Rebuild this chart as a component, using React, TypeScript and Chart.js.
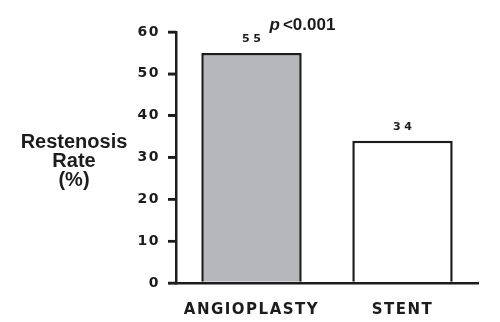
import React, { useEffect, useRef } from 'react';
import { Chart, registerables } from 'chart.js';

Chart.register(...registerables);

const categories = ['ANGIOPLASTY', 'STENT'];
const restenosisRates = [55, 34];
const barColors = ['#b5b7ba', '#ffffff'];
const yTitleLines = ['Restenosis', 'Rate', '(%)'];
const pLabel = 'p';
const pValueLabel = '<0.001';
const yMin = 0;
const yMax = 60;
const yStep = 10;

const FONT = '"Liberation Sans", Arial, Helvetica, sans-serif';
const WIDE = '"DejaVu Sans", Verdana, sans-serif';
const INK = '#1c1c1c';
const TICK_LEN = 8;

const annotationPlugin = {
  id: 'annotations',
  beforeDraw(chart: any) {
    chart.ctx.letterSpacing = '1.5px';
  },
  afterDraw(chart: any) {
    const ctx = chart.ctx;
    const area = chart.chartArea;
    const meta = chart.getDatasetMeta(0);
    const yScale = chart.scales.y;
    ctx.save();
    // y tick marks
    ctx.strokeStyle = INK;
    ctx.lineWidth = 2.5;
    ctx.lineCap = 'butt';
    yScale.ticks.forEach((t: any) => {
      const py = yScale.getPixelForValue(t.value);
      ctx.beginPath();
      ctx.moveTo(yScale.right - TICK_LEN, py);
      ctx.lineTo(yScale.right, py);
      ctx.stroke();
    });
    ctx.fillStyle = INK;
    // value labels above bars
    ctx.font = `bold 11px ${WIDE}`;
    ctx.letterSpacing = '3.5px';
    ctx.textAlign = 'center';
    ctx.textBaseline = 'alphabetic';
    meta.data.forEach((bar: any, i: number) => {
      ctx.fillText(String(restenosisRates[i]), bar.x + 1.75, bar.y - 10.5);
    });
    // p-value
    ctx.letterSpacing = '0px';
    ctx.textAlign = 'left';
    const b0 = meta.data[0];
    const px = b0.x + 18;
    const py = area.top - 2;
    ctx.font = `italic bold 17px ${FONT}`;
    ctx.fillText(pLabel, px, py);
    const pw = ctx.measureText(pLabel).width;
    ctx.font = `bold 17px ${FONT}`;
    ctx.fillText(pValueLabel, px + pw + 3, py);
    // y title (horizontal, three lines)
    ctx.font = `bold 20px ${FONT}`;
    ctx.textAlign = 'center';
    const cy = (area.top + area.bottom) / 2;
    yTitleLines.forEach((line, i) => {
      ctx.fillText(line, 74, cy - 9.5 + i * 19);
    });
    ctx.restore();
  },
};

export default function App() {
  const ref = useRef<HTMLCanvasElement>(null);
  useEffect(() => {
    if (!ref.current) return;
    const chart = new Chart(ref.current, {
      type: 'bar',
      data: {
        labels: categories,
        datasets: [
          {
            data: restenosisRates,
            backgroundColor: barColors,
            borderColor: INK,
            borderWidth: 2.5,
            barPercentage: 0.665,
            categoryPercentage: 1,
          },
        ],
      },
      options: {
        responsive: false,
        animation: false,
        layout: { padding: { left: 0, right: 22, top: 32, bottom: 0 } },
        plugins: {
          legend: { display: false },
          tooltip: { enabled: false },
          title: { display: false },
        },
        scales: {
          x: {
            afterFit: (s: any) => {
              s.height = 39;
            },
            grid: { display: false, drawTicks: false },
            border: { display: true, color: INK, width: 2.5 },
            ticks: {
              color: INK,
              padding: 18,
              font: { family: WIDE, size: 15, weight: 'bold' },
            },
          },
          y: {
            min: yMin,
            max: yMax,
            afterFit: (s: any) => {
              s.width = 176;
            },
            grid: {
              display: true,
              drawOnChartArea: false,
              drawTicks: true,
              tickLength: TICK_LEN,
              tickColor: INK,
              tickWidth: 2.5,
              lineWidth: 2.5,
              color: INK,
            },
            border: { display: true, color: INK, width: 2.5 },
            ticks: {
              stepSize: yStep,
              color: INK,
              padding: 8,
              font: { family: WIDE, size: 14, weight: 'bold' },
            },
          },
        },
      },
      plugins: [annotationPlugin],
    });
    return () => chart.destroy();
  }, []);
  return (
    <div style={{ position: 'absolute', left: 0, top: 0, width: 500, height: 322 }}>
      <canvas ref={ref} width={500} height={322} style={{ display: 'block' }} />
    </div>
  );
}
